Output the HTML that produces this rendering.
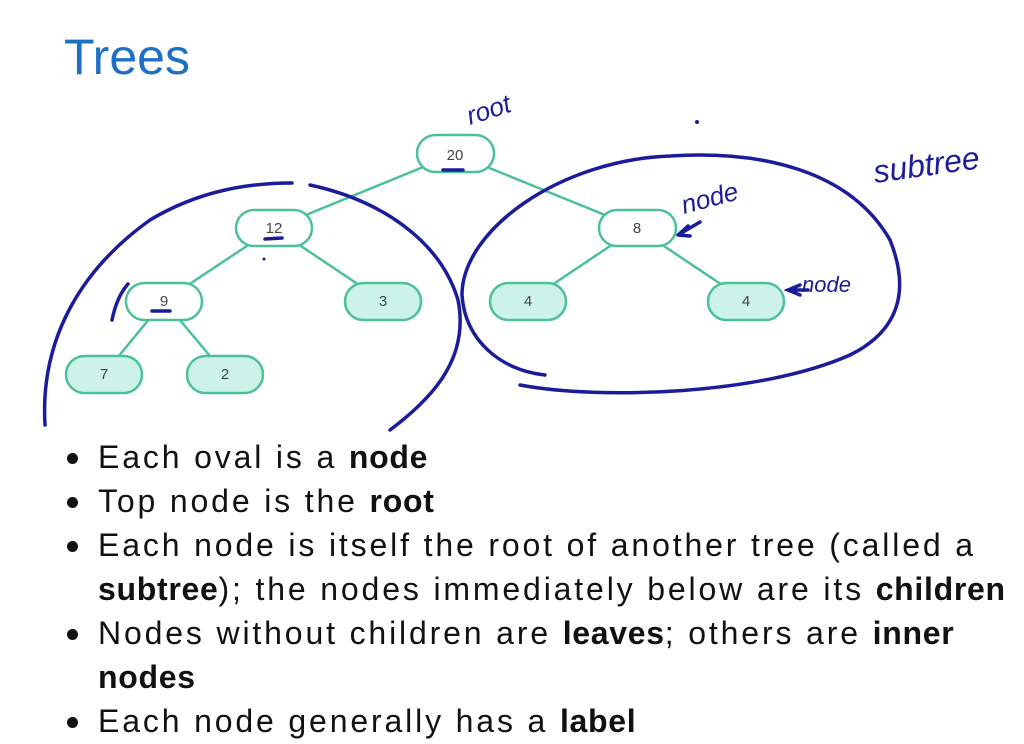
<!DOCTYPE html>
<html><head><style>
body{margin:0;width:1024px;height:744px;background:#fff;overflow:hidden;font-family:"Liberation Sans",sans-serif;}
.t{position:absolute;left:64px;top:28px;font-size:50px;color:#1f6fc4;}
ul{position:absolute;left:64px;top:435px;margin:0;padding:0;list-style:none;font-size:32px;color:#111;line-height:44px;letter-spacing:2.85px;white-space:nowrap}
b{letter-spacing:0.7px}
li{position:relative;padding-left:34px}
li:before{content:"";position:absolute;left:3px;top:18px;width:11px;height:11px;border-radius:50%;background:#111}
</style></head><body>
<div class="t">Trees</div>
<svg width="1024" height="744" style="position:absolute;left:0;top:0">
<g stroke="#4cbf9c" stroke-width="2.5">
<line x1="455" y1="154" x2="274" y2="228"/><line x1="455" y1="154" x2="637" y2="228"/>
<line x1="274" y1="228" x2="164" y2="301"/><line x1="274" y1="228" x2="383" y2="301"/>
<line x1="637" y1="228" x2="528" y2="301"/><line x1="637" y1="228" x2="746" y2="301"/>
<line x1="164" y1="301" x2="104" y2="374"/><line x1="164" y1="301" x2="225" y2="374"/>
</g>
<g stroke="#4cbf9c" stroke-width="2.5">
<rect x="417" y="135" width="77" height="37" rx="18.5" fill="#fff"/>
<rect x="236" y="210" width="76" height="36" rx="18" fill="#fff"/>
<rect x="599" y="210" width="77" height="36" rx="18" fill="#fff"/>
<rect x="126" y="283" width="76" height="37" rx="18.5" fill="#fff"/>
<rect x="345" y="283" width="76" height="37" rx="18.5" fill="#cdf3e8"/>
<rect x="490" y="283" width="76" height="37" rx="18.5" fill="#cdf3e8"/>
<rect x="708" y="283" width="76" height="37" rx="18.5" fill="#cdf3e8"/>
<rect x="66" y="356" width="76" height="37" rx="18.5" fill="#cdf3e8"/>
<rect x="187" y="356" width="76" height="37" rx="18.5" fill="#cdf3e8"/>
</g>
<g font-family="Liberation Sans" font-size="15" fill="#444" text-anchor="middle">
<text x="455" y="160">20</text><text x="274" y="233">12</text><text x="637" y="233">8</text>
<text x="164" y="306">9</text><text x="383" y="306">3</text><text x="528" y="306">4</text>
<text x="746" y="306">4</text><text x="104" y="379">7</text><text x="225" y="379">2</text>
</g>
<g stroke="#1c1c9a" stroke-width="3.5" fill="none" stroke-linecap="round">
<path d="M45 425 C40 340 80 270 150 220 C200 190 250 183 292 183"/>
<path d="M310 185 C380 200 440 240 458 300 C470 360 430 400 390 430"/>
<path d="M112 320 C115 305 120 293 128 284"/>
<path d="M545 375 C500 370 465 340 462 295 C462 230 560 160 670 156 C760 150 850 170 890 240 C910 290 900 330 850 355 C760 395 600 400 520 385"/>
<path d="M443 170 L463 170 M265 239 L282 238 M152 311 L170 311"/>
<path d="M700 222 L678 235 L688 226 M678 235 L690 236"/>
<path d="M800 285 L788 290 L800 295 M788 290 L808 290"/>
</g>
<g fill="#1c1c9a" font-family="Liberation Sans" font-style="italic" font-size="26">
<text x="470" y="125" transform="rotate(-18 470 125)">root</text>
<text x="684" y="214" transform="rotate(-15 684 214)">node</text>
<text x="802" y="292" font-size="22">node</text>
<text x="875" y="183" font-size="32" transform="rotate(-8 875 183)">subtree</text>
<circle cx="697" cy="122" r="2"/><circle cx="264" cy="259" r="1.5"/>
</g>
</svg>
<ul>
<li>Each oval is a <b>node</b></li>
<li>Top node is the <b>root</b></li>
<li>Each node is itself the root of another tree (called a<br><b>subtree</b>); the nodes immediately below are its <b>children</b></li>
<li>Nodes without children are <b>leaves</b>; others are <b>inner</b><br><b>nodes</b></li>
<li>Each node generally has a <b>label</b></li>
</ul>
</body></html>
